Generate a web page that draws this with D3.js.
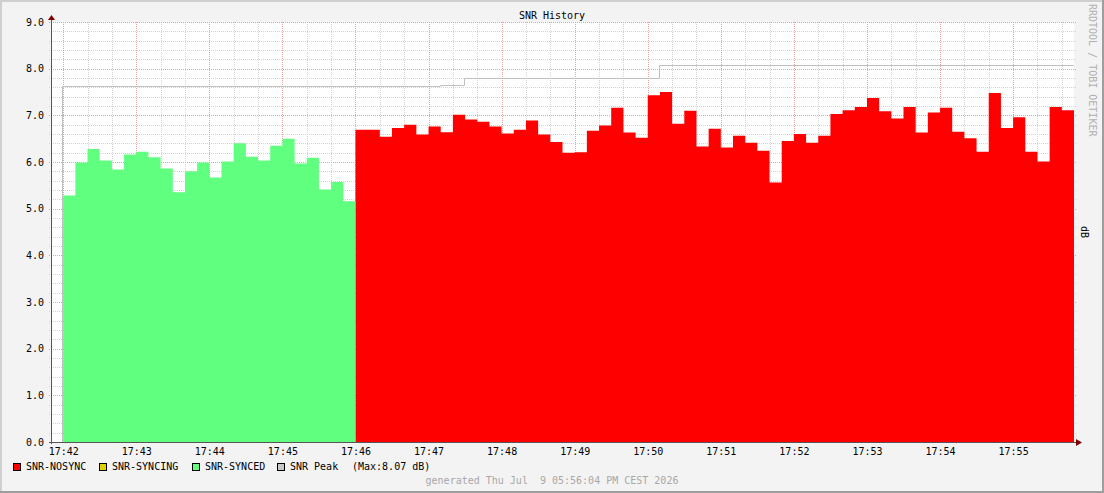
<!DOCTYPE html>
<html>
<head>
<meta charset="utf-8">
<script src="https://cdn.jsdelivr.net/npm/d3@7"></script>
<style>
  html, body { margin: 0; padding: 0; background: #f3f3f3; }
  svg { display: block; }
  text { font-family: "DejaVu Sans Mono", monospace; font-size: 10px; white-space: pre; }
</style>
</head>
<body>
<svg id="chart" width="1104" height="493"></svg>
<script>
// ---- data ----
const chartTitle = "SNR History";
const yTicks = [0, 1, 2, 3, 4, 5, 6, 7, 8, 9];
const xTickLabels = ["17:42","17:43","17:44","17:45","17:46","17:47","17:48","17:49","17:50","17:51","17:52","17:53","17:54","17:55"];
const stepSeconds = 10;
const syncedStart = "17:42:00";
const syncedValues = [5.28, 5.99, 6.28, 6.03, 5.84, 6.16, 6.22, 6.10, 5.86, 5.35, 5.80, 5.99,
                      5.67, 6.01, 6.40, 6.11, 6.03, 6.35, 6.50, 5.97, 6.09, 5.41, 5.57, 5.16];
const nosyncStart = "17:46:00";
const nosyncValues = [6.69, 6.69, 6.54, 6.73, 6.80, 6.59, 6.76, 6.64, 7.01, 6.91, 6.86, 6.76,
                      6.61, 6.69, 6.89, 6.59, 6.43, 6.20, 6.21, 6.67, 6.78, 7.16, 6.63, 6.52,
                      7.43, 7.50, 6.82, 7.10, 6.33, 6.71, 6.31, 6.56, 6.41, 6.24, 5.56, 6.45,
                      6.60, 6.41, 6.56, 7.03, 7.11, 7.18, 7.37, 7.09, 6.93, 7.18, 6.63, 7.06,
                      7.16, 6.65, 6.51, 6.22, 7.48, 6.73, 6.96, 6.22, 6.01, 7.18, 7.11];
const peakTimes = ["17:42:00", "17:42:00", "17:47:10", "17:47:30", "17:50:10", "17:55:50"];
const peakValues = [0, 7.62, 7.66, 7.81, 8.07, 8.07];
const legendLabels = ["SNR-NOSYNC", "SNR-SYNCING", "SNR-SYNCED", "SNR Peak"];
const legendColors = ["#ff0000", "#e0d000", "#60ff80", "#c8c8c8"];
const peakNote = "(Max:8.07 dB)";
const footerText = "generated Thu Jul  9 05:56:04 PM CEST 2026";
const sideText = "RRDTOOL / TOBI OETIKER";
const unitLabel = "dB";
const domainStart = "17:41:50";
const domainEnd = "17:55:50";

// ---- helpers ----
const parseT = s => { const [h, m, sec] = s.split(":").map(Number); return new Date(2026, 6, 9, h, m, sec || 0); };
const addSec = (d, s) => new Date(d.getTime() + s * 1000);

function seriesFrom(start, values) {
  const t0 = parseT(start);
  const pts = values.map((v, i) => ({ t: addSec(t0, i * stepSeconds), v }));
  pts.push({ t: addSec(t0, values.length * stepSeconds), v: values[values.length - 1] });
  return pts;
}

const svg = d3.select("#chart");
const W = 1104, H = 493;
const pLeft = 51, pRight = 1074, pTop = 22, pBottom = 442;

const x = d3.scaleTime().domain([parseT(domainStart), parseT(domainEnd)]).range([pLeft, pRight]);
const y = d3.scaleLinear().domain([0, 9]).range([pBottom, pTop]);

// background & frame
svg.append("rect").attr("x", 0).attr("y", 0).attr("width", W).attr("height", H).attr("fill", "#f3f3f3");
svg.append("rect").attr("x", 0).attr("y", 0).attr("width", W).attr("height", 2).attr("fill", "#cfcfcf");
svg.append("rect").attr("x", 0).attr("y", 0).attr("width", 2).attr("height", H).attr("fill", "#cfcfcf");
svg.append("rect").attr("x", 0).attr("y", H - 2).attr("width", W).attr("height", 2).attr("fill", "#9e9e9e");
svg.append("rect").attr("x", W - 2).attr("y", 0).attr("width", 2).attr("height", H).attr("fill", "#9e9e9e");

// canvas
svg.append("rect").attr("x", pLeft).attr("y", pTop).attr("width", pRight - pLeft).attr("height", pBottom - pTop).attr("fill", "#ffffff");

// grid
const grid = svg.append("g").attr("shape-rendering", "crispEdges");
const minorY = d3.range(1, 45).map(i => i * 0.2).filter(v => Math.abs(v - Math.round(v)) > 1e-6);
grid.selectAll(".hminor").data(minorY).join("line")
  .attr("x1", pLeft - 2).attr("x2", pRight + 2)
  .attr("y1", d => Math.round(y(d)) + 0.5).attr("y2", d => Math.round(y(d)) + 0.5)
  .attr("stroke", "#d4d4d4").attr("stroke-dasharray", "1,1");
const minorX = d3.timeSecond.every(20).range(parseT(domainStart), parseT(domainEnd)).filter(d => d.getSeconds() !== 0);
grid.selectAll(".vminor").data(minorX).join("line")
  .attr("x1", d => Math.round(x(d)) + 0.5).attr("x2", d => Math.round(x(d)) + 0.5)
  .attr("y1", pTop).attr("y2", pBottom + 2)
  .attr("stroke", "#d4d4d4").attr("stroke-dasharray", "1,1");
grid.selectAll(".hmajor").data(yTicks.filter(v => v > 0)).join("line")
  .attr("x1", pLeft - 2).attr("x2", pRight + 2)
  .attr("y1", d => Math.round(y(d)) + 0.5).attr("y2", d => Math.round(y(d)) + 0.5)
  .attr("stroke", "#eca0a0").attr("stroke-dasharray", "1,1");
const majorX = xTickLabels.map(s => parseT(s));
grid.selectAll(".vmajor").data(majorX).join("line")
  .attr("x1", d => Math.round(x(d)) + 0.5).attr("x2", d => Math.round(x(d)) + 0.5)
  .attr("y1", pTop).attr("y2", pBottom + 2)
  .attr("stroke", "#eca0a0").attr("stroke-dasharray", "1,1");

// peak line (drawn first so its rise from zero hides behind the areas)
const peakPts = peakTimes.map((t, i) => ({ t: parseT(t), v: peakValues[i] }));
const line = d3.line().x(d => Math.round(x(d.t)) - 0.5).y(d => Math.round(y(d.v)) + 0.5).curve(d3.curveStepAfter);
svg.append("path").datum(peakPts).attr("d", line).attr("fill", "none").attr("stroke", "#c0c0c0").attr("stroke-width", 1);

// areas
const area = d3.area().x(d => x(d.t)).y0(y(0)).y1(d => y(d.v)).curve(d3.curveStepAfter);
svg.append("path").datum(seriesFrom(nosyncStart, nosyncValues)).attr("d", area).attr("fill", legendColors[0]);
svg.append("path").datum(seriesFrom(syncedStart, syncedValues)).attr("d", area).attr("fill", legendColors[2]);

// axes
const yAxis = d3.axisLeft(y).tickValues(yTicks).tickFormat(d3.format(".1f")).tickSize(0).tickPadding(7);
const gy = svg.append("g").attr("transform", `translate(${pLeft},0)`).call(yAxis);
gy.select(".domain").remove();
gy.selectAll("text").attr("fill", "#000").style("font-family", '"DejaVu Sans Mono", monospace').style("font-size", "10px");

const xAxis = d3.axisBottom(x).tickValues(majorX).tickFormat(d3.timeFormat("%H:%M")).tickSize(0).tickPadding(6);
const gx = svg.append("g").attr("transform", `translate(0,${pBottom})`).call(xAxis);
gx.select(".domain").remove();
gx.selectAll("text").attr("fill", "#000").style("font-family", '"DejaVu Sans Mono", monospace').style("font-size", "10px");

svg.append("line").attr("x1", pLeft + 0.5).attr("x2", pLeft + 0.5).attr("y1", pTop - 4).attr("y2", pBottom + 2).attr("stroke", "#555");
svg.append("line").attr("x1", pLeft - 2).attr("x2", pRight + 4).attr("y1", pBottom + 0.5).attr("y2", pBottom + 0.5).attr("stroke", "#555");
svg.append("path").attr("d", `M${pLeft - 3},${pTop - 2} L${pLeft + 4},${pTop - 2} L${pLeft + 0.5},${pTop - 7} Z`).attr("fill", "#7f0000");
svg.append("path").attr("d", `M${pRight + 2},${pBottom - 3} L${pRight + 2},${pBottom + 4} L${pRight + 8},${pBottom + 0.5} Z`).attr("fill", "#7f0000");

// title
svg.append("text").attr("x", 552).attr("y", 19).attr("text-anchor", "middle").attr("fill", "#000").text(chartTitle);

// side texts
svg.append("text").attr("transform", "translate(1089,4) rotate(90)").attr("fill", "#b0b0b0").text(sideText);
svg.append("text").attr("transform", "translate(1081,232) rotate(90)").attr("text-anchor", "middle").attr("fill", "#000").text(unitLabel);

// legend
const legendX = [13, 99, 192, 277];
const lg = svg.append("g");
legendLabels.forEach((lab, i) => {
  lg.append("rect").attr("x", legendX[i] + 0.5).attr("y", 463.5).attr("width", 7).attr("height", 7)
    .attr("fill", legendColors[i]).attr("stroke", "#000").attr("stroke-width", 1);
  lg.append("text").attr("x", legendX[i] + 13).attr("y", 470).attr("fill", "#000").text(lab);
});
lg.append("text").attr("x", 352).attr("y", 470).attr("fill", "#000").text(peakNote);

// footer
svg.append("text").attr("x", 552).attr("y", 484).attr("text-anchor", "middle").attr("fill", "#a8a8a8").text(footerText);
</script>
</body>
</html>
